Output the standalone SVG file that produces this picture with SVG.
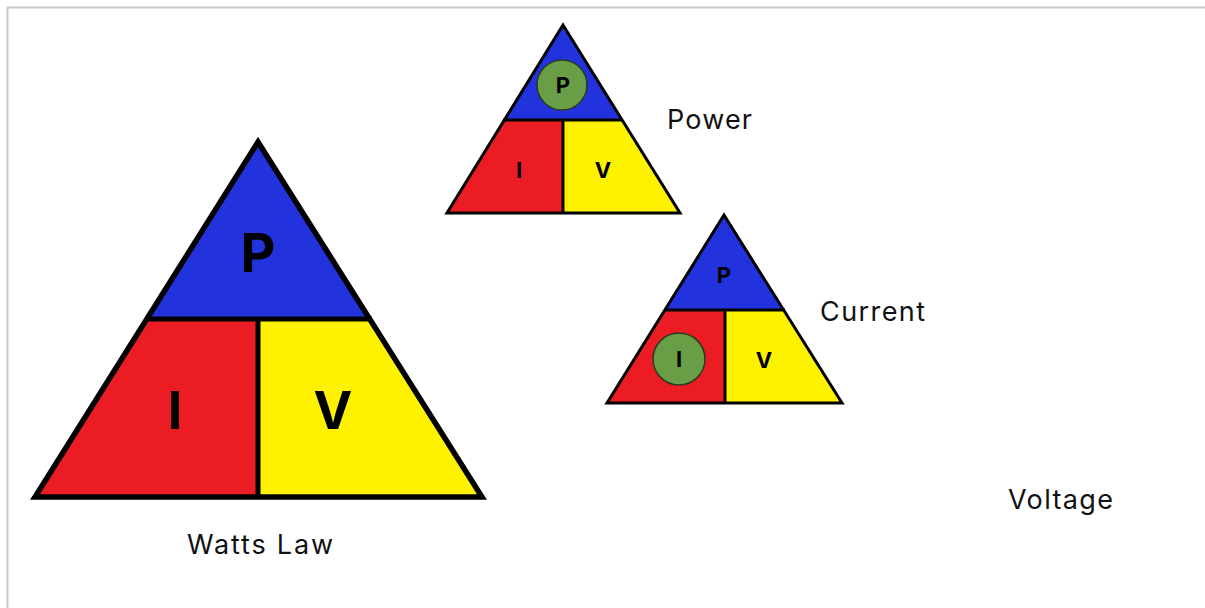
<svg xmlns="http://www.w3.org/2000/svg" width="1205" height="608" viewBox="0 0 1205 608">
  <style>
    .blue{fill:#2232DC}
    .red{fill:#EC1C24}
    .yellow{fill:#FFF200}
    .outline{fill:none;stroke:#000;stroke-linejoin:miter}
    .div{stroke:#000}
    .circ{fill:#6A9E46;stroke:#2a3a20;stroke-width:1.5}
    .letter{font-family:Inter,"Liberation Sans",sans-serif;font-weight:700;fill:#000;text-anchor:middle}
    .label{font-family:Inter,"Liberation Sans",sans-serif;font-weight:400;fill:#111}
  </style>
  <rect x="0" y="0" width="1205" height="608" fill="#fff"/>
  <rect x="7.5" y="7.5" width="1210" height="620" fill="none" stroke="#c8c8c8" stroke-width="2"/>

  <g id="watts-law">
    <polygon class="blue" points="258,142 147,319 370,319"/>
    <polygon class="red" points="147,319 258,319 258,497 35,497"/>
    <polygon class="yellow" points="258,319 370,319 482,497 258,497"/>
    <polygon class="outline" points="258,142 35,497 482,497" stroke-width="5.5"/>
    <line class="div" x1="145" y1="319" x2="372" y2="319" stroke-width="5"/>
    <line class="div" x1="258" y1="319" x2="258" y2="497" stroke-width="5"/>
    <text class="letter" x="258" y="272" font-size="54">P</text>
    <text class="letter" x="175" y="429" font-size="52">I</text>
    <text class="letter" x="333" y="429" font-size="52">V</text>
    <text class="label" x="187" y="554" font-size="27" textLength="146" lengthAdjust="spacing">Watts Law</text>
  </g>

  <g id="power">
    <polygon class="blue" points="563,25 504,120 622,120"/>
    <polygon class="red" points="504,120 563,120 563,213 447,213"/>
    <polygon class="yellow" points="563,120 622,120 680,213 563,213"/>
    <polygon class="outline" points="563,25 447,213 680,213" stroke-width="3"/>
    <line class="div" x1="503" y1="120" x2="623" y2="120" stroke-width="3"/>
    <line class="div" x1="563" y1="120" x2="563" y2="213" stroke-width="3"/>
    <circle class="circ" cx="562" cy="85" r="25"/>
    <text class="letter" x="563" y="93" font-size="22">P</text>
    <text class="letter" x="519" y="178" font-size="22">I</text>
    <text class="letter" x="603" y="178" font-size="22">V</text>
    <text class="label" x="667" y="129" font-size="27" textLength="85" lengthAdjust="spacing">Power</text>
  </g>

  <g id="current">
    <polygon class="blue" points="724,215 665,310 784,310"/>
    <polygon class="red" points="665,310 725,310 725,403 607,403"/>
    <polygon class="yellow" points="725,310 784,310 842,403 725,403"/>
    <polygon class="outline" points="724,215 607,403 842,403" stroke-width="3"/>
    <line class="div" x1="664" y1="310" x2="785" y2="310" stroke-width="3"/>
    <line class="div" x1="725" y1="310" x2="725" y2="403" stroke-width="3"/>
    <text class="letter" x="724" y="283" font-size="22">P</text>
    <circle class="circ" cx="679" cy="359" r="26"/>
    <text class="letter" x="679" y="367" font-size="22">I</text>
    <text class="letter" x="764" y="368" font-size="22">V</text>
    <text class="label" x="820" y="321" font-size="27" textLength="105" lengthAdjust="spacing">Current</text>
  </g>

  <g id="voltage">
    <text class="label" x="1008" y="509" font-size="27" textLength="105" lengthAdjust="spacing">Voltage</text>
  </g>

  <g id="connectors"/>
</svg>
